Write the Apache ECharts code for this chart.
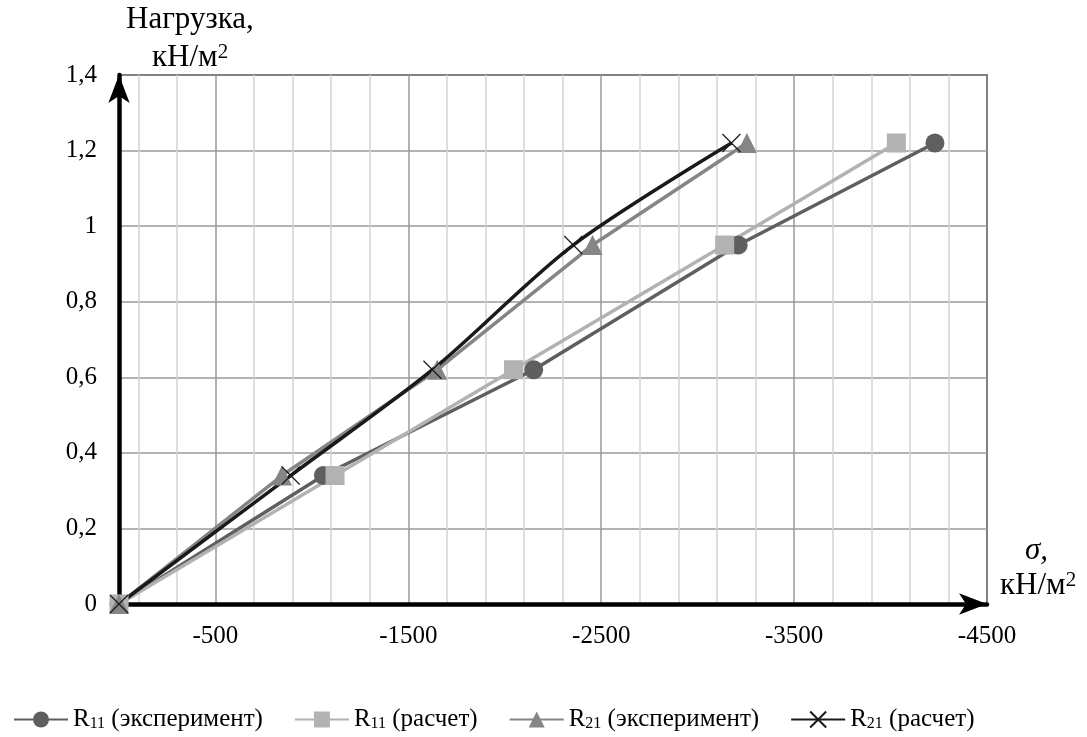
<!DOCTYPE html>
<html><head><meta charset="utf-8">
<script src="https://cdn.jsdelivr.net/npm/echarts@6/dist/echarts.min.js"></script>
<style>html,body{margin:0;padding:0;background:#fff}#c{width:1087px;height:737px}</style>
</head><body><div id="c"></div>
<script>
// Data (x: σ, кН/м², y: Нагрузка, кН/м²)
const loads = [0, 0.34, 0.62, 0.95, 1.22];
const r11Exp = [0, -1060, -2150, -3210, -4230];
const r11Calc = [0, -1120, -2045, -3140, -4030];
const r21Exp = [0, -845, -1650, -2455, -3255];
const r21Calc = [0, -890, -1625, -2355, -3175];
const seriesNames = ['R11 (эксперимент)', 'R11 (расчет)', 'R21 (эксперимент)', 'R21 (расчет)'];
const xLabelTicks = [-500, -1500, -2500, -3500, -4500];
const yTicks = [0, 0.2, 0.4, 0.6, 0.8, 1, 1.2, 1.4];

const FONT = '"Liberation Serif", "Times New Roman", serif';
const pairs = (xs) => xs.map((x, i) => [x, loads[i]]);
const xPath = 'path://M0,0 L10,10 M10,0 L0,10';

const chart = echarts.init(document.getElementById('c'));
const legendRich = {
  a: { fontFamily: FONT, fontSize: 25, color: '#000' },
  s: { fontFamily: FONT, fontSize: 16, color: '#000', verticalAlign: 'bottom' }
};
const unitRich = { a: { font: '31px ' + FONT }, s: { font: '21px ' + FONT, verticalAlign: 'top' } };
chart.setOption({
  animation: false,
  backgroundColor: '#fff',
  textStyle: { fontFamily: FONT },
  grid: { left: 119, right: 100, top: 75, bottom: 133, show: true, borderColor: '#000', borderWidth: 1.5 },
  legend: {
    bottom: 0, left: 8, itemWidth: 54, itemHeight: 20, itemGap: 31,
    data: seriesNames,
    formatter: (n) => { const m = n.match(/^R(\d+)(.*)$/); return '{a|R}{s|' + m[1] + '}{a|' + m[2] + '}'; },
    textStyle: { fontFamily: FONT, fontSize: 25, color: '#000', rich: legendRich }
  },
  xAxis: {
    type: 'value', min: -4500, max: 0, interval: 200, inverse: true,
    axisLine: { show: true, lineStyle: { color: '#000', width: 4.5 }, symbol: ['none', 'arrow'], symbolSize: [16, 28], symbolOffset: [0, 0] },
    axisTick: { show: false },
    axisLabel: {
      fontFamily: FONT, fontSize: 25, color: '#000', margin: 20, showMinLabel: true,
      formatter: (v) => xLabelTicks.indexOf(v) >= 0 ? String(v) : ''
    },
    splitLine: { show: true, showMinLine: true, lineStyle: { color: ['#9a9a9a', '#d4d4d4', '#d4d4d4', '#d4d4d4', '#d4d4d4'], width: 1.5 } }
  },
  yAxis: {
    type: 'value', min: 0, max: 1.4, interval: 0.2,
    axisLine: { show: true, lineStyle: { color: '#000', width: 4.5 }, symbol: ['none', 'arrow'], symbolSize: [16, 28], symbolOffset: [0, 0] },
    axisTick: { show: false },
    axisLabel: { fontFamily: FONT, fontSize: 25, color: '#000', margin: 22, formatter: (v) => yTicks.indexOf(+v.toFixed(1)) >= 0 ? String(+v.toFixed(1)).replace('.', ',') : '' },
    splitLine: { show: true, lineStyle: { color: '#9a9a9a', width: 1.5 } }
  },
  graphic: [
    { type: 'text', left: 126, top: 4, style: { text: 'Нагрузка,', font: '31px ' + FONT, fill: '#000' } },
    { type: 'text', left: 152, top: 42, style: { text: '{a|кН/м}{s|2}', fill: '#000', rich: unitRich } },
    { type: 'text', left: 1025, top: 535, style: { text: 'σ,', font: 'italic 31px ' + FONT, fill: '#000' } },
    { type: 'text', left: 1000, top: 570, style: { text: '{a|кН/м}{s|2}', fill: '#000', rich: unitRich } }
  ],
  series: [
    { name: seriesNames[0], type: 'line', data: pairs(r11Exp), symbol: 'circle', symbolSize: 19, color: '#5f5f5f', lineStyle: { width: 3.5, color: '#5f5f5f' } },
    { name: seriesNames[1], type: 'line', data: pairs(r11Calc), symbol: 'rect', symbolSize: 19, color: '#b2b2b2', lineStyle: { width: 3.5, color: '#b2b2b2' } },
    { name: seriesNames[2], type: 'line', data: pairs(r21Exp), symbol: 'triangle', symbolSize: 20, color: '#858585', lineStyle: { width: 3.5, color: '#858585' } },
    { name: seriesNames[3], type: 'line', data: pairs(r21Calc), symbol: xPath, symbolSize: 18, color: '#1a1a1a', smooth: 0.3,
      itemStyle: { color: '#1a1a1a', borderColor: '#1a1a1a', borderWidth: 1.2 }, lineStyle: { width: 3.5, color: '#1a1a1a' } }
  ]
});
</script></body></html>
